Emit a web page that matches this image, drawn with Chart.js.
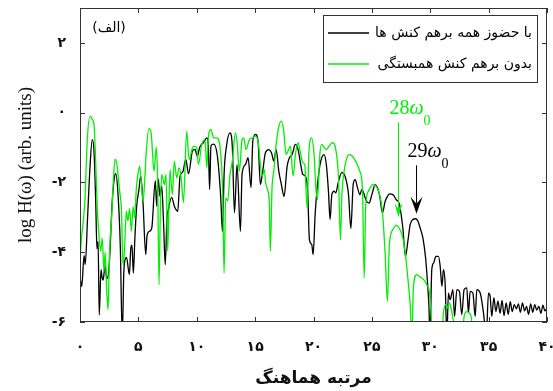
<!DOCTYPE html>
<html>
<head>
<meta charset="utf-8">
<script src="https://cdn.jsdelivr.net/npm/chart.js@4.4.0/dist/chart.umd.min.js"></script>
<style>
  body { margin: 0; background: #fff; }
  #wrap { width: 553px; height: 391px; }
</style>
</head>
<body>
<div id="wrap"><canvas id="hhgChart" width="553" height="391"></canvas></div>
<script>
// ---- spectrum with all interactions (black) ----
var blackOrder = [0.00, 0.15, 0.35, 0.45, 0.65, 0.85, 1.05, 1.20, 1.35, 1.45, 1.55, 1.65, 1.80, 1.88, 1.98, 2.14, 2.30, 2.45, 2.57, 2.75,
    2.95, 3.06, 3.25, 3.45, 3.62, 3.75, 3.86, 3.98, 4.23, 4.35, 4.45, 4.57, 4.70, 4.85, 5.05, 5.20, 5.40, 5.63, 5.75, 5.95,
    6.15, 6.45, 6.57, 6.70, 6.85, 7.00, 7.15, 7.30, 7.45, 7.55, 7.85, 8.10, 8.37, 8.57, 8.80, 9.06, 9.30, 9.63, 9.85, 10.05,
    10.25, 10.60, 10.86, 11.00, 11.10, 11.22, 11.45, 11.75, 12.05, 12.20, 12.35, 12.55, 12.85, 13.05, 13.23, 13.45, 13.74, 13.88, 14.17, 14.40,
    14.65, 14.80, 15.02, 15.25, 15.45, 15.65, 15.88, 16.17, 16.40, 16.60, 16.80, 17.03, 17.25, 17.48, 17.74, 17.94, 18.17, 18.45, 18.68, 18.88,
    19.08, 19.30, 19.50, 19.65, 19.85, 19.97, 20.14, 20.34, 20.62, 20.90, 21.10, 21.28, 21.42, 21.57, 21.77, 21.90, 22.14, 22.42, 22.70, 23.00,
    23.20, 23.40, 23.57, 23.77, 23.97, 24.14, 24.34, 24.54, 24.76, 25.00, 25.28, 25.48, 25.68, 25.90, 26.14, 26.33, 26.50, 26.80, 27.08, 27.36,
    27.65, 27.88, 28.08, 28.28, 28.50, 28.73, 28.93, 29.13, 29.37, 29.60, 29.75, 29.88, 29.98, 30.13, 30.30, 30.48, 30.70, 30.85, 31.00, 31.13,
    31.28, 31.42, 31.56, 31.70, 31.94, 32.08, 32.28, 32.50, 32.70, 32.90, 33.13, 33.27, 33.42, 33.65, 33.85, 33.99, 34.28, 34.56, 34.80, 34.99,
    35.13, 35.27, 35.45, 35.62, 35.80, 35.98, 36.15, 36.32, 36.50, 36.68, 36.85, 37.02, 37.20, 37.38, 37.55, 37.72, 37.90, 38.08, 38.25, 38.42,
    38.60, 38.78, 38.95, 39.12, 39.30, 39.48, 39.65, 39.82, 40.00];
var blackLog = [-4.70, -4.98, -4.10, -4.35, -3.00, -1.60, -0.77, -1.10, -2.60, -3.90, -3.70, -5.80, -4.50, -4.70, -4.80, -4.40, -4.75, -4.60, -3.97, -2.60,
    -1.85, -1.75, -2.30, -3.80, -6.40, -4.60, -4.21, -4.15, -4.64, -3.90, -3.80, -4.60, -3.60, -2.70, -2.20, -1.82, -2.60, -4.07, -3.50, -3.40,
    -3.30, -1.95, -2.68, -1.90, -2.40, -2.10, -3.10, -4.36, -3.00, -2.80, -2.43, -2.70, -2.83, -1.82, -1.70, -1.34, -1.75, -1.10, -1.05, -1.25,
    -1.00, -0.85, -0.72, -1.00, -2.20, -0.95, -0.90, -1.20, -2.40, -3.40, -1.70, -0.95, -0.58, -1.00, -2.87, -1.49, -3.40, -1.77, -1.49, -1.29,
    -2.15, -0.82, -0.62, -0.82, -2.06, -1.68, -1.15, -1.06, -1.15, -1.39, -1.06, -1.68, -2.06, -2.40, -1.54, -1.29, -1.20, -0.91, -1.06, -1.44,
    -1.77, -1.82, -2.25, -3.64, -3.78, -4.07, -2.92, -2.06, -1.39, -1.20, -1.49, -2.25, -3.06, -2.35, -2.25, -2.30, -1.97, -1.72, -1.82, -2.35,
    -3.32, -2.06, -1.92, -2.15, -2.35, -2.20, -2.35, -2.54, -2.59, -2.35, -2.06, -2.15, -2.40, -2.87, -2.54, -2.40, -2.33, -2.35, -2.49, -2.63,
    -3.30, -4.12, -3.69, -3.21, -3.06, -3.04, -3.10, -3.30, -3.59, -4.16, -4.80, -5.50, -6.40, -4.50, -4.30, -4.12, -4.12, -4.40, -4.98, -4.50,
    -4.93, -6.40, -5.17, -5.36, -5.07, -5.84, -5.07, -5.12, -5.79, -5.07, -5.02, -5.74, -5.12, -5.17, -5.84, -5.07, -5.17, -5.74, -6.40, -5.17,
    -5.26, -5.84, -5.30, -5.70, -5.40, -5.75, -5.38, -5.82, -5.45, -5.78, -5.42, -5.70, -5.50, -5.62, -5.48, -5.72, -5.45, -5.68, -5.55, -5.78,
    -5.48, -5.72, -5.50, -5.66, -5.55, -5.75, -5.52, -5.68, -5.60];

// ---- spectrum without correlation (green) ----
var greenOrder = [0.00, 0.10, 0.25, 0.43, 0.62, 0.86, 1.03, 1.20, 1.30, 1.48, 1.60, 1.77, 1.90, 2.06, 2.15, 2.29, 2.40, 2.50, 2.60, 2.69,
    2.85, 3.00, 3.15, 3.40, 3.55, 3.68, 3.80, 3.97, 4.10, 4.25, 4.40, 4.55, 4.68, 4.83, 4.95, 5.11, 5.25, 5.40, 5.55, 5.68,
    5.91, 6.10, 6.34, 6.54, 6.65, 6.77, 6.88, 7.00, 7.23, 7.37, 7.51, 7.71, 7.91, 8.08, 8.28, 8.48, 8.65, 8.86, 9.14, 9.34,
    9.71, 10.00, 10.14, 10.43, 10.71, 10.86, 11.00, 11.22, 11.43, 11.71, 12.00, 12.23, 12.34, 12.48, 12.65, 12.85, 13.05, 13.31, 13.45, 13.65,
    13.88, 14.02, 14.22, 14.51, 14.80, 15.02, 15.25, 15.60, 15.80, 15.88, 16.10, 16.22, 16.30, 16.45, 16.60, 16.80, 17.03, 17.25, 17.45, 17.65,
    17.82, 18.02, 18.25, 18.45, 18.68, 18.88, 19.10, 19.25, 19.45, 19.60, 19.82, 20.05, 20.20, 20.34, 20.54, 20.71, 20.91, 21.10, 21.34, 21.62,
    21.91, 22.14, 22.31, 22.42, 22.62, 22.82, 23.05, 23.34, 23.68, 23.97, 24.20, 24.34, 24.48, 24.71, 25.05, 25.34, 25.62, 25.90, 26.14, 26.33,
    26.50, 26.80, 27.08, 27.36, 27.65, 27.88, 28.08, 28.28, 28.42, 28.56, 28.85, 29.13, 29.42, 29.70, 29.94, 30.05, 30.20, 31.00, 31.13, 31.33,
    31.50, 31.64, 31.84, 32.00, 32.20, 32.70, 32.93, 33.13, 33.33, 33.50, 33.70, 34.00];
var greenLog = [-4.45, -3.69, -3.21, -2.45, -0.80, -0.10, -0.18, -0.34, -1.00, -2.73, -3.40, -3.97, -3.60, -4.55, -4.00, -5.12, -5.65, -4.40, -3.50, -3.11,
    -2.00, -1.34, -1.45, -2.25, -2.80, -4.36, -4.00, -2.83, -3.10, -2.75, -3.40, -2.70, -3.00, -2.15, -1.80, -1.53, -2.00, -2.54, -1.90, -1.10,
    -0.45, -0.60, -1.68, -0.98, -2.00, -4.93, -2.80, -1.77, -2.06, -1.77, -3.97, -1.63, -2.35, -1.39, -1.87, -1.58, -1.82, -2.58, -0.53, -1.34,
    -0.96, -1.00, -1.49, -0.91, -0.77, -1.58, -0.67, -0.48, -0.72, -0.72, -1.00, -2.44, -4.60, -2.44, -2.53, -1.77, -1.39, -0.58, -0.82, -1.68,
    -0.77, -0.72, -1.06, -0.77, -0.72, -0.67, -0.82, -1.82, -1.63, -1.97, -2.25, -2.63, -3.97, -2.15, -1.68, -0.91, -0.39, -0.24, -0.53, -1.20,
    -1.10, -0.96, -1.82, -1.20, -0.86, -1.15, -1.44, -1.49, -2.73, -1.20, -0.72, -1.20, -2.15, -2.49, -1.20, -0.91, -1.00, -1.06, -0.96, -0.86,
    -1.06, -1.87, -3.64, -2.44, -1.68, -1.34, -1.20, -1.25, -1.44, -1.68, -2.25, -4.74, -2.63, -2.25, -2.06, -2.10, -2.30, -2.82, -4.07, -5.41,
    -3.78, -3.35, -3.23, -3.32, -3.59, -4.07, -4.74, -5.50, -6.40, -4.98, -4.64, -4.71, -4.78, -4.93, -5.17, -5.65, -6.40, -6.40, -5.74, -5.50,
    -5.60, -5.45, -5.70, -6.00, -6.40, -6.40, -5.79, -5.70, -5.74, -5.84, -6.40, -6.40];

var xTicks = [0, 5, 10, 15, 20, 25, 30, 35, 40];
var yTicks = [-6, -4, -2, 0, 2];
var legendLabels = ['با حضوز همه برهم کنش ها', 'بدون برهم کنش همبستگی'];
var lineColors = ['#000000', '#00f000'];

var faDigits = '۰۱۲۳۴۵۶۷۸۹';
function toPersian(n) {
    return String(n).replace(/\d/g, function (d) { return faDigits[d]; });
}

function pairs(xs, ys) {
    return xs.map(function (x, i) { return { x: x, y: ys[i] }; });
}

// shrink the font until the label fits the given width
function fitFont(ctx, text, maxW, size) {
    ctx.font = size + 'px "DejaVu Sans"';
    while (size > 9 && ctx.measureText(text).width > maxW) {
        size -= 0.5;
        ctx.font = size + 'px "DejaVu Sans"';
    }
}

// box, inward ticks, legend and the two harmonic markers
var decorPlugin = {
    id: 'decor',
    afterDatasetsDraw: function (chart) {
        var ctx = chart.ctx;
        var a = chart.chartArea;
        var xs = chart.scales.x, ys = chart.scales.y;
        ctx.save();

        ctx.strokeStyle = '#333';
        ctx.lineWidth = 1;
        ctx.strokeRect(a.left + 0.5, a.top + 0.5, a.right - a.left - 1, a.bottom - a.top - 1);
        ctx.beginPath();
        xTicks.forEach(function (v) {
            var px = Math.round(xs.getPixelForValue(v)) + 0.5;
            ctx.moveTo(px, a.bottom); ctx.lineTo(px, a.bottom - 5);
            ctx.moveTo(px, a.top); ctx.lineTo(px, a.top + 5);
        });
        yTicks.forEach(function (v) {
            var py = Math.round(ys.getPixelForValue(v)) + 0.5;
            ctx.moveTo(a.left, py); ctx.lineTo(a.left + 5, py);
            ctx.moveTo(a.right, py); ctx.lineTo(a.right - 5, py);
        });
        ctx.stroke();

        // panel tag
        ctx.fillStyle = '#000';
        ctx.font = '14px "DejaVu Sans"';
        ctx.textAlign = 'center';
        ctx.textBaseline = 'middle';
        ctx.fillText('(الف)', a.left + 29, a.top + 20);

        // legend
        var bx = a.right - 224, by = a.top + 7, bw = 214, bh = 67;
        ctx.fillStyle = '#fff';
        ctx.fillRect(bx, by, bw, bh);
        ctx.strokeStyle = '#333';
        ctx.strokeRect(bx + 0.5, by + 0.5, bw, bh);
        legendLabels.forEach(function (label, i) {
            var ly = by + 18 + i * 31;
            ctx.strokeStyle = lineColors[i];
            ctx.lineWidth = 1.3;
            ctx.beginPath();
            ctx.moveTo(bx + 5, ly); ctx.lineTo(bx + 46, ly);
            ctx.stroke();
            ctx.fillStyle = '#000';
            fitFont(ctx, label, 160, 15);
            ctx.textAlign = 'right';
            ctx.fillText(label, bx + bw - 5, ly);
        });

        // harmonic markers
        drawMarker(ctx, xs, ys, 27.2, -0.28, -3.0, lineColors[1], '28', 8, 14);
        drawMarker(ctx, xs, ys, 28.8, -1.51, -2.9, lineColors[0], '29', 12, 17);
        ctx.restore();
    }
};

function drawMarker(ctx, xs, ys, order, yTop, yTip, color, num, headW, headH) {
    var px = Math.round(xs.getPixelForValue(order)) + 0.5;
    var top = ys.getPixelForValue(yTop);
    var tip = ys.getPixelForValue(yTip);
    ctx.strokeStyle = color;
    ctx.fillStyle = color;
    ctx.lineWidth = 1;
    ctx.beginPath();
    ctx.moveTo(px, top); ctx.lineTo(px, tip - headH * 0.6);
    ctx.stroke();
    ctx.beginPath();
    ctx.moveTo(px, tip);
    ctx.lineTo(px - headW / 2, tip - headH);
    ctx.lineTo(px, tip - headH * 0.6);
    ctx.lineTo(px + headW / 2, tip - headH);
    ctx.closePath();
    ctx.fill();

    // label: NNω₀
    var lx = px - 9, base = top - 8;
    ctx.textAlign = 'left';
    ctx.textBaseline = 'alphabetic';
    ctx.font = '20px "Liberation Serif"';
    ctx.fillText(num, lx, base);
    lx += ctx.measureText(num).width;
    ctx.font = 'italic 20px "Liberation Serif"';
    ctx.fillText('ω', lx, base);
    lx += ctx.measureText('ω').width;
    ctx.font = '14px "Liberation Serif"';
    ctx.fillText('0', lx, base + 11);
}

new Chart(document.getElementById('hhgChart'), {
    type: 'line',
    data: {
        datasets: [
            {
                label: legendLabels[0],
                data: pairs(blackOrder, blackLog),
                borderColor: lineColors[0],
                borderWidth: 1.3,
                pointRadius: 0,
                cubicInterpolationMode: 'monotone',
                order: 2
            },
            {
                label: legendLabels[1],
                data: pairs(greenOrder, greenLog),
                borderColor: lineColors[1],
                borderWidth: 1.3,
                pointRadius: 0,
                cubicInterpolationMode: 'monotone',
                order: 1
            }
        ]
    },
    options: {
        responsive: false,
        animation: false,
        devicePixelRatio: 1,
        layout: { padding: { top: 8, right: 6, left: 0, bottom: 0 } },
        plugins: {
            legend: { display: false },
            tooltip: { enabled: false }
        },
        scales: {
            x: {
                type: 'linear',
                min: 0,
                max: 40,
                afterBuildTicks: function (scale) {
                    scale.ticks = xTicks.map(function (v) { return { value: v }; });
                },
                afterFit: function (scale) {
                    scale.height = 69;
                    scale.paddingLeft = 0;
                    scale.paddingRight = 0;
                },
                grid: { display: false, drawTicks: false },
                border: { display: false },
                ticks: {
                    color: '#111',
                    padding: 17,
                    maxRotation: 0,
                    font: { family: 'DejaVu Sans', size: 14, weight: 'bold' },
                    callback: function (v) { return toPersian(v); }
                },
                title: {
                    display: true,
                    text: 'مرتبه هماهنگ',
                    color: '#111',
                    font: { family: 'DejaVu Sans', size: 17, weight: 'bold' },
                    padding: { top: 0, bottom: 2 }
                }
            },
            y: {
                min: -6,
                max: 3,
                afterBuildTicks: function (scale) {
                    scale.ticks = yTicks.map(function (v) { return { value: v }; });
                },
                afterFit: function (scale) {
                    scale.width = 80;
                    scale.paddingTop = 0;
                    scale.paddingBottom = 0;
                },
                grid: { display: false, drawTicks: false },
                border: { display: false },
                ticks: {
                    color: '#111',
                    padding: 14,
                    font: { family: 'DejaVu Sans', size: 14, weight: 'bold' },
                    callback: function (v) { return toPersian(v); }
                },
                title: {
                    display: true,
                    text: 'log H(ω) (arb. units)',
                    color: '#111',
                    font: { family: 'Liberation Serif', size: 19 },
                    padding: { top: 15, bottom: 0 }
                }
            }
        }
    },
    plugins: [decorPlugin]
});
</script>
</body>
</html>
